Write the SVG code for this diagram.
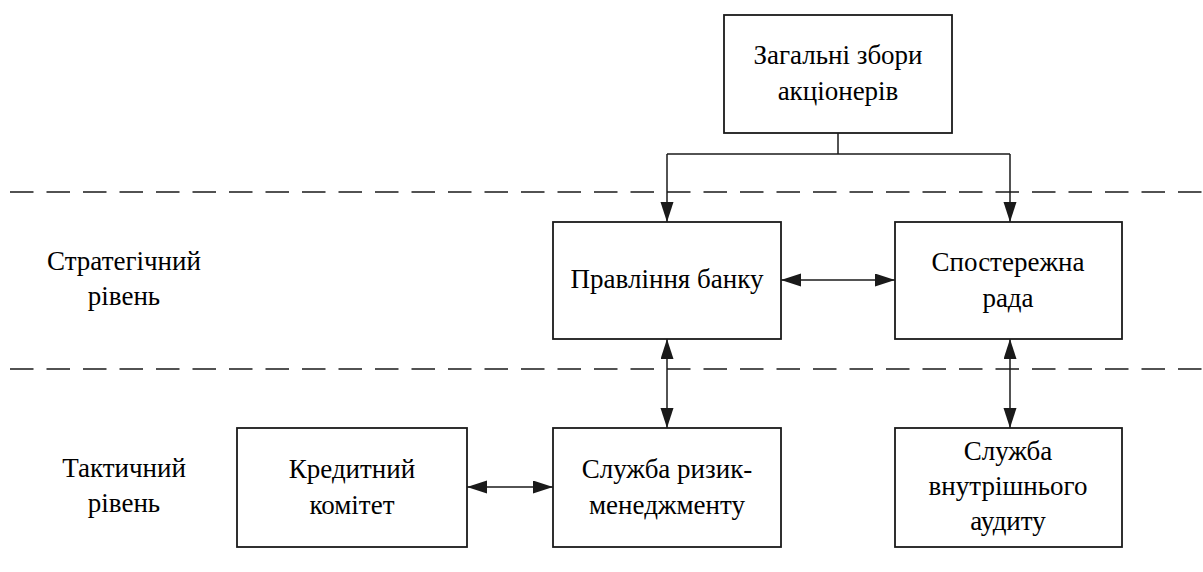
<svg xmlns="http://www.w3.org/2000/svg" width="1203" height="572" viewBox="0 0 1203 572">
  <defs>
    <marker id="ah" markerUnits="userSpaceOnUse" markerWidth="21" markerHeight="14" refX="20" refY="6.5" orient="auto-start-reverse">
      <path d="M0,0 L20,6.5 L0,13 Z" fill="#1a1a1a"/>
    </marker>
  </defs>
  <rect width="1203" height="572" fill="#fff"/>

  <!-- level separators -->
  <g id="separators" fill="none" stroke="#1a1a1a" stroke-width="1.5" stroke-dasharray="23.5 13">
    <line x1="10" y1="192" x2="1203" y2="192"/>
    <line x1="10" y1="369" x2="1203" y2="369"/>
  </g>

  <!-- connectors -->
  <g id="connectors" fill="none" stroke="#1a1a1a" stroke-width="1.5">
    <path d="M838,133 V154"/>
    <path d="M667,154 H1010"/>
    <path d="M667,154 V222" marker-end="url(#ah)"/>
    <path d="M1010,154 V222" marker-end="url(#ah)"/>
    <path d="M781,280 H895" marker-start="url(#ah)" marker-end="url(#ah)"/>
    <path d="M667,339 V428" marker-start="url(#ah)" marker-end="url(#ah)"/>
    <path d="M1010,339 V428" marker-start="url(#ah)" marker-end="url(#ah)"/>
    <path d="M467,487 H553" marker-start="url(#ah)" marker-end="url(#ah)"/>
  </g>

  <!-- level captions -->
  <g id="level-captions" text-anchor="middle">
    <text x="124" y="270" font-size="27" style="font-family: 'Liberation Serif'">Стратегічний</text>
    <text x="124" y="305" font-size="27" style="font-family: 'Liberation Serif'">рівень</text>
    <text x="124" y="477" font-size="27" style="font-family: 'Liberation Serif'">Тактичний</text>
    <text x="124" y="512" font-size="27" style="font-family: 'Liberation Serif'">рівень</text>
  </g>

  <g id="shareholders" text-anchor="middle">
    <rect x="724" y="15" width="228" height="118" fill="#fff" stroke="#1a1a1a" stroke-width="1.8"/>
    <text x="838" y="64" font-size="27" style="font-family: 'Liberation Serif'">Загальні збори</text>
    <text x="838" y="100" font-size="27" style="font-family: 'Liberation Serif'">акціонерів</text>
  </g>

  <g id="board" text-anchor="middle">
    <rect x="553" y="222" width="228" height="117" fill="#fff" stroke="#1a1a1a" stroke-width="1.8"/>
    <text x="667" y="288" font-size="27" style="font-family: 'Liberation Serif'">Правління банку</text>
  </g>

  <g id="supervisory" text-anchor="middle">
    <rect x="895" y="222" width="227" height="117" fill="#fff" stroke="#1a1a1a" stroke-width="1.8"/>
    <text x="1008" y="271" font-size="27" style="font-family: 'Liberation Serif'">Спостережна</text>
    <text x="1008" y="307" font-size="27" style="font-family: 'Liberation Serif'">рада</text>
  </g>

  <g id="credit" text-anchor="middle">
    <rect x="237" y="428" width="230" height="119" fill="#fff" stroke="#1a1a1a" stroke-width="1.8"/>
    <text x="352" y="478" font-size="27" style="font-family: 'Liberation Serif'">Кредитний</text>
    <text x="352" y="514" font-size="27" style="font-family: 'Liberation Serif'">комітет</text>
  </g>

  <g id="risk" text-anchor="middle">
    <rect x="553" y="428" width="228" height="119" fill="#fff" stroke="#1a1a1a" stroke-width="1.8"/>
    <text x="667" y="478" font-size="27" style="font-family: 'Liberation Serif'">Служба ризик-</text>
    <text x="667" y="514" font-size="27" style="font-family: 'Liberation Serif'">менеджменту</text>
  </g>

  <g id="audit" text-anchor="middle">
    <rect x="895" y="428" width="227" height="119" fill="#fff" stroke="#1a1a1a" stroke-width="1.8"/>
    <text x="1008" y="460" font-size="27" style="font-family: 'Liberation Serif'">Служба</text>
    <text x="1008" y="495" font-size="27" style="font-family: 'Liberation Serif'">внутрішнього</text>
    <text x="1008" y="530" font-size="27" style="font-family: 'Liberation Serif'">аудиту</text>
  </g>
</svg>
